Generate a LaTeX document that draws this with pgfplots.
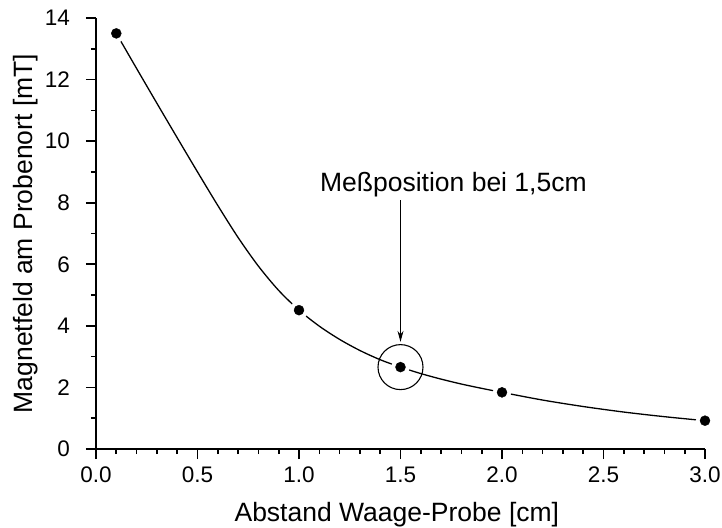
\documentclass[border=0pt]{standalone}
\usepackage{fontspec}
\setmainfont{Liberation Sans}
\usepackage{pgfplots}
\pgfplotsset{compat=1.18}
\usetikzlibrary{arrows.meta}

% measured field strength
\pgfplotstableread{
x    B
0.1  13.50
1.0  4.51
1.5  2.66
2.0  1.84
3.0  0.92
}\fielddata

% fitted curve through the measurements
\pgfplotstableread{
x    B
0.1  13.50
0.2  12.36
0.3  11.23
0.4  10.11
0.5  9.00
0.6  7.91
0.7  6.87
0.8  5.94
0.9  5.15
1.0  4.51
1.1  3.99
1.2  3.56
1.3  3.20
1.4  2.90
1.5  2.66
1.6  2.45
1.7  2.27
1.8  2.11
1.9  1.97
2.0  1.84
2.2  1.59
2.4  1.38
2.6  1.20
2.8  1.05
3.0  0.92
}\fitcurve

\newcommand\tickfont{\fontsize{22.5bp}{27bp}\selectfont}
\newcommand\labfont{\fontsize{26.5bp}{31bp}\selectfont}

\begin{document}
\begin{tikzpicture}
\begin{axis}[
  scale only axis,
  width=609bp, height=431bp,
  xmin=0, xmax=3, ymin=0, ymax=14,
  axis lines*=left,
  axis line style={line width=1.8bp},
  xtick={0,0.5,...,3}, ytick={0,2,...,14},
  minor x tick num=4, minor y tick num=1,
  tick align=outside,
  major tick length=10bp, minor tick length=5bp,
  every tick/.style={black, line width=1.6bp},
  /pgf/number format/assume math mode=true,
  xticklabel style={/pgf/number format/fixed, /pgf/number format/fixed zerofill,
    /pgf/number format/precision=1, font=\tickfont, inner sep=0pt, yshift=-8bp},
  yticklabel style={font=\tickfont, inner sep=0pt, xshift=-16bp},
  xlabel={Abstand Waage-Probe [cm]},
  ylabel={Magnetfeld am Probenort [mT]},
  xlabel style={font=\labfont, inner sep=0pt, at={(axis description cs:0.494,-0.169)}, anchor=base},
  ylabel style={font=\labfont, inner sep=0pt, at={(axis description cs:-0.136,0.5)}, anchor=north},
  clip=false,
]
  \addplot[line width=1.3bp, black, smooth] table[x=x, y=B] {\fitcurve};
  % white halo so the curve stops short of each point
  \addplot[only marks, mark=*, mark size=9bp, mark options={draw=white, fill=white}] table[x=x, y=B] {\fielddata};
  \addplot[only marks, mark=*, mark size=5bp, mark options={draw=black, fill=black}] table[x=x, y=B] {\fielddata};
  % highlighted measuring position
  \addplot[only marks, mark=o, mark size=22.5bp, mark options={draw=black, line width=1.1bp}] coordinates {(1.5,2.66)};
  \draw[-{Stealth[length=11bp, width=6bp]}, line width=1bp] (axis cs:1.5,8.08) -- (axis cs:1.5,3.48);
  \node[anchor=base west, font=\labfont, inner sep=0pt] at (axis cs:1.103,8.35) {Meßposition bei 1,5cm};
\end{axis}
\pgfresetboundingbox
\path[use as bounding box] (-96bp,-79bp) rectangle (626bp,449bp);
\end{tikzpicture}
\end{document}
